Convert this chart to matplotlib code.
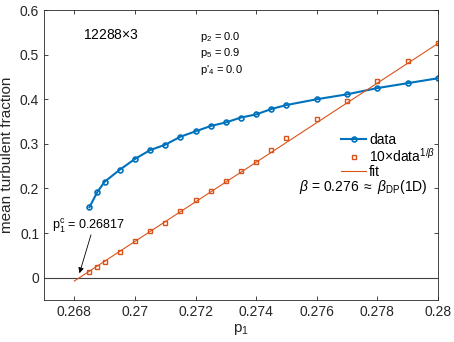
import numpy as np
import matplotlib
matplotlib.use('Agg')
import matplotlib.pyplot as plt

plt.rcParams['font.family'] = ['Liberation Sans', 'DejaVu Sans']
plt.rcParams['mathtext.fontset'] = 'custom'
plt.rcParams['mathtext.rm'] = 'Liberation Sans'
plt.rcParams['mathtext.it'] = 'Liberation Sans:italic'

# data
p1 = [0.2685, 0.26875, 0.269, 0.2695, 0.27, 0.2705, 0.271, 0.2715, 0.272, 0.2725,
      0.273, 0.2735, 0.274, 0.2745, 0.275, 0.276, 0.277, 0.278, 0.279, 0.28]
frac = [0.158, 0.191, 0.215, 0.242, 0.266, 0.286, 0.298, 0.316, 0.328, 0.340,
        0.348, 0.359, 0.366, 0.378, 0.387, 0.400, 0.411, 0.425, 0.436, 0.447]
scaled = [0.012, 0.024, 0.036, 0.058, 0.082, 0.105, 0.123, 0.150, 0.175, 0.195,
          0.217, 0.239, 0.259, 0.287, 0.312, 0.355, 0.395, 0.440, 0.485, 0.527]
fit_x = [0.268, 0.28]
fit_y = [-0.0075, 0.525]
p1c = 0.26817

blue = '#0072BD'
orange = '#D95319'

fig = plt.figure(figsize=(4.54, 3.42), dpi=100)
ax = fig.add_axes([44/454, 42/342, 394/454, 290/342])

ax.axhline(0, color='#404040', lw=0.8)
ax.plot(p1, frac, '-o', color=blue, lw=1.5, ms=3.5, mfc='none', mew=1.2, label='data')
ax.plot(p1, scaled, 's', color=orange, ms=3.5, mfc='none', mew=1.0,
        label=r'10$\times$data$^{1/\mathit{\beta}}$')
ax.plot(fit_x, fit_y, '-', color=orange, lw=0.8, label='fit')

ax.set_xlim(0.267, 0.28)
ax.set_ylim(-0.05, 0.6)
ax.set_xticks([0.268, 0.27, 0.272, 0.274, 0.276, 0.278, 0.28])
ax.set_xticklabels(['0.268', '0.27', '0.272', '0.274', '0.276', '0.278', '0.28'])
ax.set_yticks([0, 0.1, 0.2, 0.3, 0.4, 0.5, 0.6])
ax.set_yticklabels(['0', '0.1', '0.2', '0.3', '0.4', '0.5', '0.6'])
ax.tick_params(direction='in', top=True, right=True, labelsize=10, colors='#262626',
               length=3, width=0.6)
for s in ax.spines.values():
    s.set_color('#262626')
    s.set_linewidth(0.6)

ax.set_xlabel(r'p$_1$', fontsize=11, color='#262626', labelpad=2)
ax.set_ylabel('mean turbulent fraction', fontsize=11, color='#262626', labelpad=4)

ax.text(0.2683, 0.543, r'12288$\times$3', fontsize=10, va='center')
ax.text(0.27215, 0.539, r'p$_2$ = 0.0', fontsize=8, va='center')
ax.text(0.27215, 0.503, r'p$_5$ = 0.9', fontsize=8, va='center')
ax.text(0.27215, 0.465, r"p'$_4$ = 0.0", fontsize=8, va='center')

leg = ax.legend(loc='upper left', bbox_to_anchor=(0.755, 0.575), frameon=False,
                fontsize=10, handlelength=1.8, handletextpad=0.2, labelspacing=0.0,
                borderaxespad=0, borderpad=0)

ax.text(0.27542, 0.203, r'$\mathit{\beta}$ = 0.276 $\approx$ $\mathit{\beta}_{\rm DP}$(1D)',
        fontsize=10, ha='left', va='center')

ax.text(0.26726, 0.116, r'p$_1^{\rm c}$ = 0.26817', fontsize=9, va='center')
ax.annotate('', xy=(p1c, 0.01), xytext=(0.26855, 0.096),
            arrowprops=dict(arrowstyle='-|>', color='black', lw=0.6,
                            mutation_scale=8, shrinkA=0, shrinkB=0))

fig.savefig('out.png', dpi=100)
